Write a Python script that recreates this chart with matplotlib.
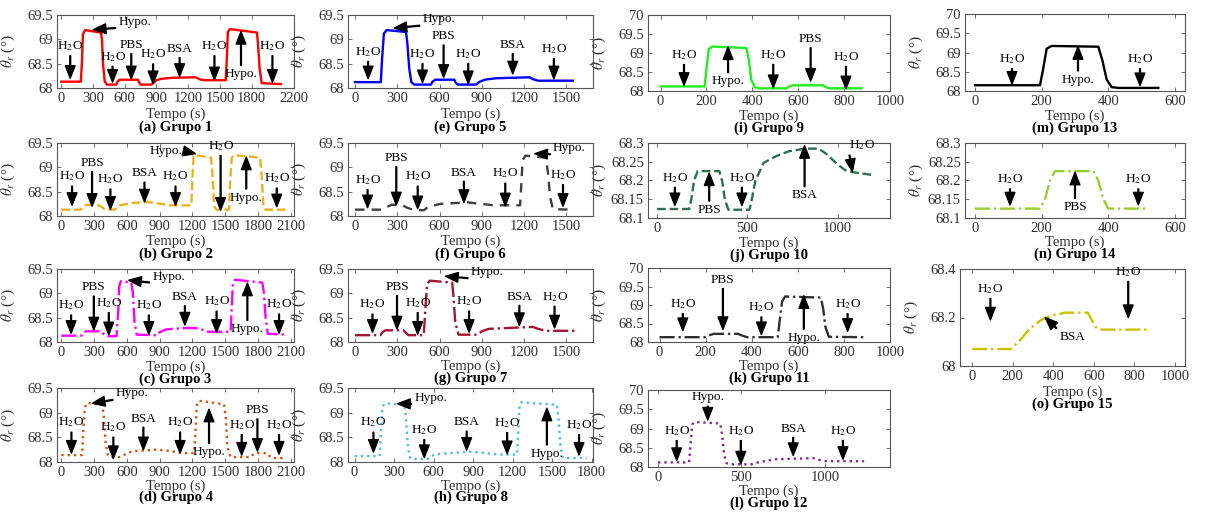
import matplotlib
matplotlib.use('Agg')
import matplotlib.pyplot as plt
from matplotlib.ticker import FuncFormatter

plt.rcParams['font.family'] = ['Liberation Serif', 'DejaVu Serif']
plt.rcParams['mathtext.fontset'] = 'stix'

H2O = 'H$_2$O'

# ---------------- data ----------------
t1 = [0, 185, 195, 205, 225, 375, 385, 395, 410, 430, 520, 530, 550, 725, 735, 750, 850, 870, 900, 950, 1050, 1270, 1290, 1320, 1350, 1555, 1565, 1575, 1595, 1850, 1860, 1875, 1895, 2075]
y1 = [68.13, 68.13, 68.5, 69.1, 69.19, 69.14, 69.0, 68.5, 68.15, 68.07, 68.07, 68.12, 68.17, 68.17, 68.12, 68.07, 68.07, 68.1, 68.16, 68.19, 68.21, 68.22, 68.2, 68.17, 68.16, 68.16, 68.6, 69.15, 69.21, 69.14, 68.9, 68.4, 68.1, 68.08]

t2 = [0, 175, 200, 230, 330, 360, 390, 420, 490, 510, 540, 600, 663, 785, 1000, 1190, 1200, 1210, 1230, 1370, 1385, 1400, 1420, 1535, 1545, 1560, 1580, 1820, 1835, 1850, 1870, 2070]
y2 = [68.13, 68.13, 68.18, 68.23, 68.23, 68.2, 68.15, 68.13, 68.13, 68.17, 68.22, 68.25, 68.27, 68.29, 68.22, 68.22, 68.8, 69.22, 69.25, 69.2, 68.8, 68.2, 68.13, 68.13, 68.7, 69.2, 69.25, 69.2, 68.8, 68.2, 68.13, 68.13]

t3 = [0, 185, 195, 210, 230, 365, 380, 400, 425, 505, 520, 530, 545, 640, 655, 670, 690, 875, 900, 960, 1150, 1270, 1300, 1340, 1550, 1560, 1570, 1590, 1840, 1855, 1870, 1890, 2070]
y3 = [68.13, 68.13, 68.17, 68.21, 68.22, 68.22, 68.18, 68.14, 68.12, 68.12, 68.6, 69.15, 69.25, 69.22, 69.0, 68.4, 68.15, 68.14, 68.2, 68.26, 68.29, 68.28, 68.24, 68.21, 68.21, 68.7, 69.2, 69.28, 69.22, 69.0, 68.5, 68.17, 68.15]

t4 = [0, 190, 200, 215, 235, 375, 390, 405, 425, 450, 540, 560, 600, 660, 880, 1000, 1120, 1215, 1228, 1240, 1260, 1490, 1505, 1520, 1550, 1735, 1750, 1775, 1885, 1900, 1930, 2055]
y4 = [68.14, 68.14, 68.6, 69.1, 69.2, 69.16, 68.9, 68.4, 68.15, 68.1, 68.1, 68.12, 68.18, 68.22, 68.25, 68.22, 68.18, 68.18, 68.6, 69.15, 69.24, 69.17, 68.9, 68.3, 68.1, 68.1, 68.14, 68.18, 68.18, 68.13, 68.08, 68.08]

t5 = [0, 183, 192, 205, 225, 362, 372, 385, 400, 420, 539, 550, 570, 705, 715, 730, 860, 880, 920, 1000, 1240, 1265, 1300, 1547]
y5 = [68.12, 68.12, 68.6, 69.12, 69.19, 69.15, 68.9, 68.4, 68.12, 68.07, 68.07, 68.13, 68.17, 68.17, 68.11, 68.07, 68.07, 68.12, 68.17, 68.2, 68.22, 68.18, 68.15, 68.15]

t6 = [0, 190, 230, 260, 330, 370, 420, 490, 520, 610, 800, 985, 1172, 1180, 1190, 1210, 1355, 1370, 1385, 1405, 1535]
y6 = [68.13, 68.13, 68.19, 68.23, 68.23, 68.17, 68.12, 68.12, 68.19, 68.25, 68.28, 68.22, 68.22, 68.6, 69.15, 69.24, 69.2, 68.9, 68.4, 68.14, 68.13]

t7 = [0, 180, 195, 215, 345, 360, 380, 488, 500, 512, 530, 690, 700, 712, 735, 870, 900, 950, 1100, 1262, 1300, 1355, 1560]
y7 = [68.14, 68.14, 68.2, 68.24, 68.24, 68.19, 68.14, 68.14, 68.7, 69.18, 69.26, 69.22, 68.9, 68.4, 68.15, 68.15, 68.22, 68.27, 68.29, 68.31, 68.27, 68.23, 68.23]

t8 = [0, 190, 200, 212, 230, 378, 390, 402, 415, 430, 554, 580, 620, 870, 1000, 1095, 1233, 1242, 1252, 1265, 1535, 1548, 1560, 1575, 1590, 1762]
y8 = [68.12, 68.12, 68.6, 69.12, 69.19, 69.16, 68.9, 68.4, 68.12, 68.06, 68.06, 68.12, 68.16, 68.21, 68.18, 68.15, 68.15, 68.6, 69.15, 69.21, 69.16, 68.9, 68.4, 68.12, 68.08, 68.08]

t9 = [0, 192, 200, 210, 225, 374, 385, 395, 410, 430, 549, 560, 575, 709, 720, 735, 876]
y9 = [68.12, 68.12, 68.6, 69.1, 69.17, 69.13, 68.8, 68.3, 68.1, 68.07, 68.07, 68.12, 68.15, 68.15, 68.1, 68.07, 68.07]

t10 = [0, 178, 190, 205, 225, 345, 360, 375, 395, 512, 525, 545, 590, 660, 730, 820, 895, 940, 990, 1040, 1085, 1190]
y10 = [68.124, 68.124, 68.15, 68.2, 68.225, 68.225, 68.2, 68.15, 68.122, 68.122, 68.15, 68.2, 68.247, 68.265, 68.278, 68.285, 68.285, 68.27, 68.247, 68.228, 68.222, 68.215]

t11 = [0, 195, 215, 235, 340, 360, 380, 513, 522, 532, 545, 700, 710, 720, 735, 884]
y11 = [68.13, 68.13, 68.18, 68.22, 68.22, 68.17, 68.13, 68.13, 68.6, 69.1, 69.23, 69.2, 68.9, 68.4, 68.14, 68.13]

t12 = [0, 186, 195, 205, 218, 373, 385, 397, 410, 430, 560, 600, 700, 930, 960, 1010, 1235]
y12 = [68.12, 68.12, 68.6, 69.1, 69.17, 69.13, 68.8, 68.3, 68.1, 68.07, 68.07, 68.12, 68.2, 68.23, 68.19, 68.15, 68.15]

t13 = [0, 195, 205, 215, 230, 370, 382, 395, 410, 430, 550]
y13 = [68.15, 68.15, 68.6, 69.1, 69.17, 69.15, 68.8, 68.3, 68.1, 68.08, 68.08]

t14 = [0, 195, 210, 225, 240, 355, 370, 385, 400, 520]
y14 = [68.125, 68.125, 68.15, 68.2, 68.225, 68.225, 68.2, 68.15, 68.125, 68.125]

t15 = [0, 190, 230, 280, 340, 400, 460, 570, 590, 610, 640, 860]
y15 = [68.07, 68.07, 68.1, 68.15, 68.19, 68.21, 68.22, 68.22, 68.19, 68.16, 68.15, 68.15]

# arrows: (label, text x, text y, tip x, tip y, text side)
arr1 = [(H2O, 85, 68.72, 85, 68.2, 'b'), ('Hypo.', 540, 69.36, 304, 69.2, 'l'),
        (H2O, 485, 68.5, 485, 68.12, 'b'), ('PBS', 662, 68.76, 662, 68.19, 'b'),
        (H2O, 868, 68.55, 868, 68.09, 'b'), ('BSA', 1119, 68.68, 1119, 68.24, 'b'),
        (H2O, 1448, 68.72, 1448, 68.17, 'b'), ('Hypo.', 1699, 68.41, 1699, 69.16, 't'),
        (H2O, 1996, 68.72, 1996, 68.12, 'b')]
arr2 = [(H2O, 98, 68.67, 98, 68.22, 'b'), ('PBS', 281, 68.97, 281, 68.2, 'b'),
        (H2O, 449, 68.61, 449, 68.14, 'b'), ('BSA', 761, 68.75, 761, 68.29, 'b'),
        (H2O, 1045, 68.67, 1045, 68.22, 'b'), ('Hypo.', 1107, 69.34, 1228, 69.28, 'r'),
        (H2O, 1458, 69.3, 1458, 68.12, 'b'), ('Hypo.', 1693, 68.5, 1693, 69.21, 't'),
        (H2O, 1972, 68.63, 1972, 68.19, 'b')]
arr3 = [(H2O, 89, 68.61, 89, 68.18, 'b'), ('PBS', 297, 69.0, 297, 68.25, 'b'),
        (H2O, 434, 68.66, 434, 68.15, 'b'), ('Hypo.', 831, 69.34, 617, 69.27, 'l'),
        (H2O, 801, 68.61, 801, 68.16, 'b'), ('BSA', 1131, 68.8, 1131, 68.35, 'b'),
        (H2O, 1421, 68.69, 1421, 68.2, 'b'), ('Hypo.', 1703, 68.39, 1703, 69.21, 't'),
        (H2O, 1993, 68.63, 1993, 68.18, 'b')]
arr4 = [(H2O, 92, 68.66, 92, 68.18, 'b'), ('Hypo.', 497, 69.39, 284, 69.19, 'l'),
        (H2O, 476, 68.56, 476, 68.07, 'b'), ('BSA', 751, 68.76, 751, 68.25, 'b'),
        (H2O, 1087, 68.66, 1087, 68.18, 'b'), ('Hypo.', 1352, 68.32, 1352, 69.07, 't'),
        (H2O, 1651, 68.61, 1651, 68.14, 'b'), ('PBS', 1795, 68.93, 1795, 68.22, 'b'),
        (H2O, 1993, 68.61, 1993, 68.16, 'b')]
arr5 = [(H2O, 93, 68.6, 93, 68.19, 'b'), ('Hypo.', 479, 69.41, 278, 69.23, 'l'),
        (H2O, 479, 68.56, 479, 68.11, 'b'), ('PBS', 629, 68.94, 629, 68.22, 'b'),
        (H2O, 804, 68.56, 804, 68.09, 'b'), ('BSA', 1120, 68.76, 1120, 68.29, 'b'),
        (H2O, 1412, 68.66, 1412, 68.19, 'b')]
arr6 = [(H2O, 89, 68.6, 89, 68.17, 'b'), ('PBS', 293, 69.07, 293, 68.23, 'b'),
        (H2O, 445, 68.67, 445, 68.15, 'b'), ('BSA', 773, 68.77, 773, 68.28, 'b'),
        (H2O, 1067, 68.73, 1067, 68.21, 'b'), ('Hypo.', 1406, 69.39, 1277, 69.28, 'l'),
        (H2O, 1477, 68.7, 1477, 68.2, 'b')]
arr7 = [(H2O, 124, 68.63, 124, 68.2, 'b'), ('PBS', 298, 69.01, 298, 68.27, 'b'),
        (H2O, 445, 68.66, 445, 68.16, 'b'), ('Hypo.', 821, 69.43, 643, 69.35, 'l'),
        (H2O, 810, 68.69, 810, 68.2, 'b'), ('BSA', 1167, 68.81, 1167, 68.34, 'b'),
        (H2O, 1417, 68.79, 1417, 68.29, 'b')]
arr8 = [(H2O, 143, 68.66, 143, 68.2, 'b'), ('Hypo.', 453, 69.3, 327, 69.18, 'l'),
        (H2O, 529, 68.51, 529, 68.09, 'b'), ('BSA', 851, 68.68, 851, 68.24, 'b'),
        (H2O, 1158, 68.65, 1158, 68.17, 'b'), ('Hypo.', 1460, 68.29, 1460, 69.09, 't'),
        (H2O, 1704, 68.61, 1704, 68.14, 'b')]
arr9 = [(H2O, 102, 68.77, 102, 68.15, 'b'), ('Hypo.', 294, 68.41, 294, 69.16, 't'),
        (H2O, 491, 68.77, 491, 68.09, 'b'), ('PBS', 654, 69.21, 654, 68.26, 'b'),
        (H2O, 808, 68.72, 808, 68.06, 'b')]
arr10 = [(H2O, 99, 68.189, 99, 68.133, 'b'), ('PBS', 289, 68.138, 289, 68.22, 't'),
         (H2O, 470, 68.189, 470, 68.133, 'b'), ('BSA', 817, 68.176, 817, 68.293, 't'),
         (H2O, 1135, 68.275, 1082, 68.224, 'b')]
arr11 = [(H2O, 101, 68.84, 101, 68.31, 'b'), ('PBS', 275, 69.52, 275, 68.34, 'b'),
         (H2O, 442, 68.75, 442, 68.2, 'b'), ('Hypo.', 626, 68.27, 626, 69.25, 't'),
         (H2O, 816, 68.84, 816, 68.29, 'b')]
arr12 = [(H2O, 112, 68.76, 112, 68.17, 'b'), ('Hypo.', 298, 69.65, 298, 69.22, 'b'),
         (H2O, 496, 68.76, 496, 68.08, 'b'), ('BSA', 810, 68.84, 810, 68.3, 'b'),
         (H2O, 1108, 68.76, 1108, 68.2, 'b')]
arr13 = [(H2O, 111, 68.65, 111, 68.18, 'b'), ('Hypo.', 309, 68.45, 309, 69.15, 't'),
         (H2O, 495, 68.65, 495, 68.14, 'b')]
arr14 = [(H2O, 105, 68.185, 105, 68.135, 'b'), ('PBS', 300, 68.145, 300, 68.222, 't'),
         (H2O, 490, 68.185, 490, 68.135, 'b')]
arr15 = [(H2O, 90, 68.29, 90, 68.19, 'b'), ('BSA', 430, 68.12, 360, 68.2, 'l'),
         (H2O, 770, 68.36, 770, 68.2, 'b')]

xt_a = [0, 300, 600, 900, 1200, 1500, 1800, 2200]
xt_2100 = [0, 300, 600, 900, 1200, 1500, 1800, 2100]
xt_1500 = [0, 300, 600, 900, 1200, 1500]
xt_1800 = [0, 300, 600, 900, 1200, 1500, 1800]
xt_1000 = [0, 200, 400, 600, 800, 1000]
xt_500 = [0, 500, 1000]
xt_600 = [0, 200, 400, 600]
yt_695 = [68, 68.5, 69, 69.5]
yt_70 = [68, 68.5, 69, 69.5, 70]
yt_683 = [68.1, 68.15, 68.2, 68.25, 68.3]
yt_684 = [68, 68.2, 68.4]

titles = ['(a) Grupo 1', '(b) Grupo 2', '(c) Grupo 3', '(d) Grupo 4',
          '(e) Grupo 5', '(f) Grupo 6', '(g) Grupo 7', '(h) Grupo 8',
          '(i) Grupo 9', '(j) Grupo 10', '(k) Grupo 11', '(l) Grupo 12',
          '(m) Grupo 13', '(n) Grupo 14', '(o) Grupo 15']

# ---------------- layout ----------------
W, H = 1222, 512
fig = plt.figure(figsize=(W / 100, H / 100), dpi=100)

# box: (left, top, right, bottom) in pixels; offsets for xlabel/title below axes
panels = [
    (t1, y1, '#FF0000', '-', (57, 15, 294, 88), (-40, 2200), xt_a, (68, 69.5), yt_695, arr1, (26, 39)),
    (t2, y2, '#EDB120', '--', (57, 143, 294, 216), (-40, 2130), xt_2100, (68, 69.5), yt_695, arr2, (25, 38)),
    (t3, y3, '#FF00FF', '-.', (57, 269, 294, 342), (-40, 2130), xt_2100, (68, 69.5), yt_695, arr3, (25, 37)),
    (t4, y4, '#D95319', ':', (57, 388, 294, 462), (-40, 2130), xt_2100, (68, 69.5), yt_695, arr4, (24, 35)),
    (t5, y5, '#0000FF', '-', (348, 15, 593, 88), (-50, 1690), xt_1500, (68, 69.5), yt_695, arr5, (26, 39)),
    (t6, y6, '#404040', (0, (4, 3)), (348, 143, 593, 216), (-50, 1690), xt_1500, (68, 69.5), yt_695, arr6, (25, 38)),
    (t7, y7, '#A2142F', '-.', (348, 269, 593, 342), (-50, 1690), xt_1500, (68, 69.5), yt_695, arr7, (24, 36)),
    (t8, y8, '#4DBEEE', ':', (348, 388, 593, 462), (-50, 1810), xt_1800, (68, 69.5), yt_695, arr8, (24, 35)),
    (t9, y9, '#22EE22', '-', (648, 15, 890, 91), (-55, 1000), xt_1000, (68, 70), yt_70, arr9, (25, 37)),
    (t10, y10, '#2F6E50', '--', (648, 143, 890, 218), (-50, 1290), xt_500, (68.1, 68.3), yt_683, arr10, (25, 37)),
    (t11, y11, '#303030', '-.', (648, 268, 890, 342), (-50, 1000), xt_1000, (68, 70), yt_70, arr11, (24, 36)),
    (t12, y12, '#7E2F8E', ':', (648, 390, 890, 467), (-60, 1390), xt_500, (68, 70), yt_70, arr12, (24, 36)),
    (t13, y13, '#000000', '-', (965, 14, 1185, 91), (-30, 630), xt_600, (68, 70), yt_70, arr13, (25, 37)),
    (t14, y14, '#9ACD32', '-.', (965, 143, 1185, 218), (-30, 630), xt_600, (68.1, 68.3), yt_683, arr14, (24, 36)),
    (t15, y15, '#C9C400', '-.', (960, 269, 1185, 366), (-60, 1050), xt_1000, (68, 68.4), yt_684, arr15, (26, 38)),
]

fmt = FuncFormatter(lambda v, p: '%g' % round(v, 3))
align = {'b': ('center', 'bottom'), 't': ('center', 'top'),
         'l': ('left', 'center'), 'r': ('right', 'center')}

for i, (t, y, col, ls, box, xl, xt, yl, yt, arrs, offs) in enumerate(panels):
    L, T, R, B = box
    ax = fig.add_axes([L / W, 1 - B / H, (R - L) / W, (B - T) / H])
    ax.plot(t, y, color=col, linestyle=ls, linewidth=1.7)
    ax.set_xlim(*xl)
    ax.set_ylim(*yl)
    ax.set_xticks(xt)
    ax.set_yticks(yt)
    ax.yaxis.set_major_formatter(fmt)
    for s in ax.spines.values():
        s.set_color('#555555')
        s.set_linewidth(0.8)
    ax.tick_params(direction='in', top=True, right=True, length=3, width=0.6,
                   colors='#555555', labelcolor='#303030', labelsize=10.5)
    ax.tick_params(axis='x', pad=3)
    ax.tick_params(axis='y', pad=3)
    ax.set_ylabel(r'$\theta_r$ (°)', fontsize=11, color='#303030')
    ax.yaxis.set_label_coords(-40 / (R - L), 0.5)
    for (lab, xtx, ytx, xp, yp, side) in arrs:
        ha, va = align[side]
        ax.annotate(lab, xy=(xp, yp), xytext=(xtx, ytx), ha=ha, va=va,
                    fontsize=9.5, color='k', annotation_clip=False,
                    arrowprops=dict(facecolor='k', edgecolor='k', width=0.6,
                                    headwidth=7, headlength=9, shrink=0.0))
    cx = (L + R) / 2 / W
    fig.text(cx, 1 - (B + offs[0]) / H, 'Tempo (s)', ha='center', va='center',
             fontsize=10.5, color='#303030')
    fig.text(cx, 1 - (B + offs[1]) / H, titles[i], ha='center', va='center',
             fontsize=10.5, fontweight='bold', color='k')

fig.savefig('out.png', dpi=100, facecolor='white')
